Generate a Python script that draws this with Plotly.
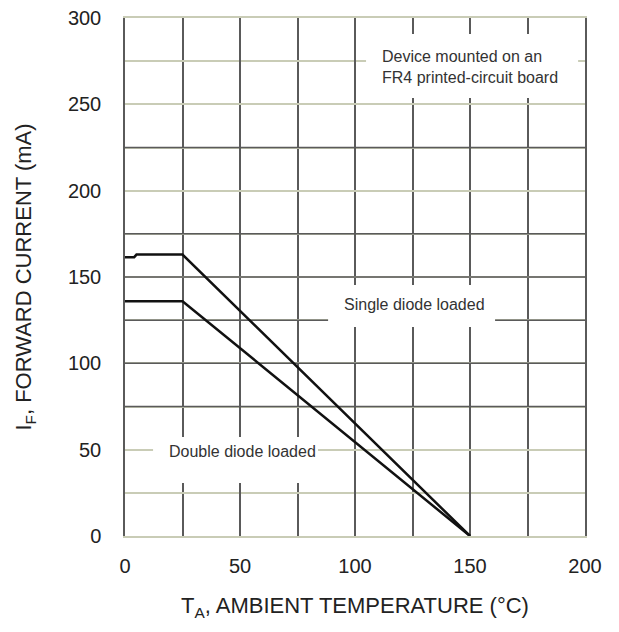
import plotly.graph_objects as go

# Data
single_x = [0, 4, 5, 25, 150]
single_y = [161.5, 161.5, 163, 163, 0]
double_x = [0, 25, 150]
double_y = [136, 136, 0]

x_ticks = [0, 50, 100, 150, 200]
y_ticks = [0, 50, 100, 150, 200, 250, 300]
dark_hgrid = [75, 100, 125, 150, 175, 225]

FONT = "Liberation Sans, Arial, sans-serif"
LIGHT = "#c9ccb6"
DARK = "#5a5a5a"

fig = go.Figure()
fig.add_trace(go.Scatter(x=single_x, y=single_y, mode="lines",
                         line=dict(color="#111111", width=2.5), showlegend=False))
fig.add_trace(go.Scatter(x=double_x, y=double_y, mode="lines",
                         line=dict(color="#111111", width=2.5), showlegend=False))

shapes = []
for v in dark_hgrid:
    shapes.append(dict(type="line", xref="x", yref="y", x0=0, x1=200, y0=v, y1=v,
                       line=dict(color=DARK, width=1.5), layer="between"))
# white label boxes breaking the grid
for (x0, x1, y0, y1) in [(104.8, 197.0, 253.7, 290.7),
                         (88.3, 160.9, 121.0, 145.4),
                         (12.2, 83.9, 30.7, 57.3)]:
    shapes.append(dict(type="rect", xref="x", yref="y", x0=x0, x1=x1, y0=y0, y1=y1,
                       fillcolor="white", line=dict(width=0), layer="between"))

annots = [
    dict(x=110.9, y=271.6, xref="x", yref="y", xanchor="left", yanchor="middle",
         text="Device mounted on an<br>FR4 printed-circuit board", align="left",
         showarrow=False, font=dict(family=FONT, size=16, color="#333333")),
    dict(x=125.7, y=133.8, xref="x", yref="y", xanchor="center", yanchor="middle",
         text="Single diode loaded", showarrow=False,
         font=dict(family=FONT, size=16, color="#333333")),
    dict(x=51.3, y=49.2, xref="x", yref="y", xanchor="center", yanchor="middle",
         text="Double diode loaded", showarrow=False,
         font=dict(family=FONT, size=16, color="#333333")),
]

fig.update_layout(
    width=619, height=632,
    margin=dict(l=117, r=42, t=10, b=104),
    paper_bgcolor="white", plot_bgcolor="white",
    shapes=shapes, annotations=annots,
    font=dict(family=FONT, color="#222222"),
    xaxis=dict(range=[0, 200], tickvals=x_ticks, ticks="", ticklabelstandoff=11,
               automargin=False, ticklabeloverflow="allow",
               tickfont=dict(size=20, color="#222222"),
               showgrid=True, gridcolor=DARK, gridwidth=1.5,
               minor=dict(dtick=25, showgrid=True, gridcolor=DARK, gridwidth=1.5),
               showline=True, linecolor=LIGHT, linewidth=2, mirror=True,
               zeroline=False,
               title=dict(text="T<sub>A</sub>, AMBIENT TEMPERATURE (°C)",
                          font=dict(size=22, color="#222222"), standoff=22)),
    yaxis=dict(range=[0, 300], tickvals=y_ticks, ticks="", ticklabelstandoff=18,
               automargin=False, ticklabeloverflow="allow",
               tickfont=dict(size=20, color="#222222"),
               showgrid=True, gridcolor=LIGHT, gridwidth=2,
               minor=dict(dtick=25, showgrid=True, gridcolor=LIGHT, gridwidth=2),
               showline=True, linecolor=DARK, linewidth=1.5, mirror=True,
               zeroline=False,
               title=dict(text="I<sub>F</sub>, FORWARD CURRENT (mA)",
                          font=dict(size=22, color="#222222"), standoff=30)),
)

fig.write_html("out.html")
